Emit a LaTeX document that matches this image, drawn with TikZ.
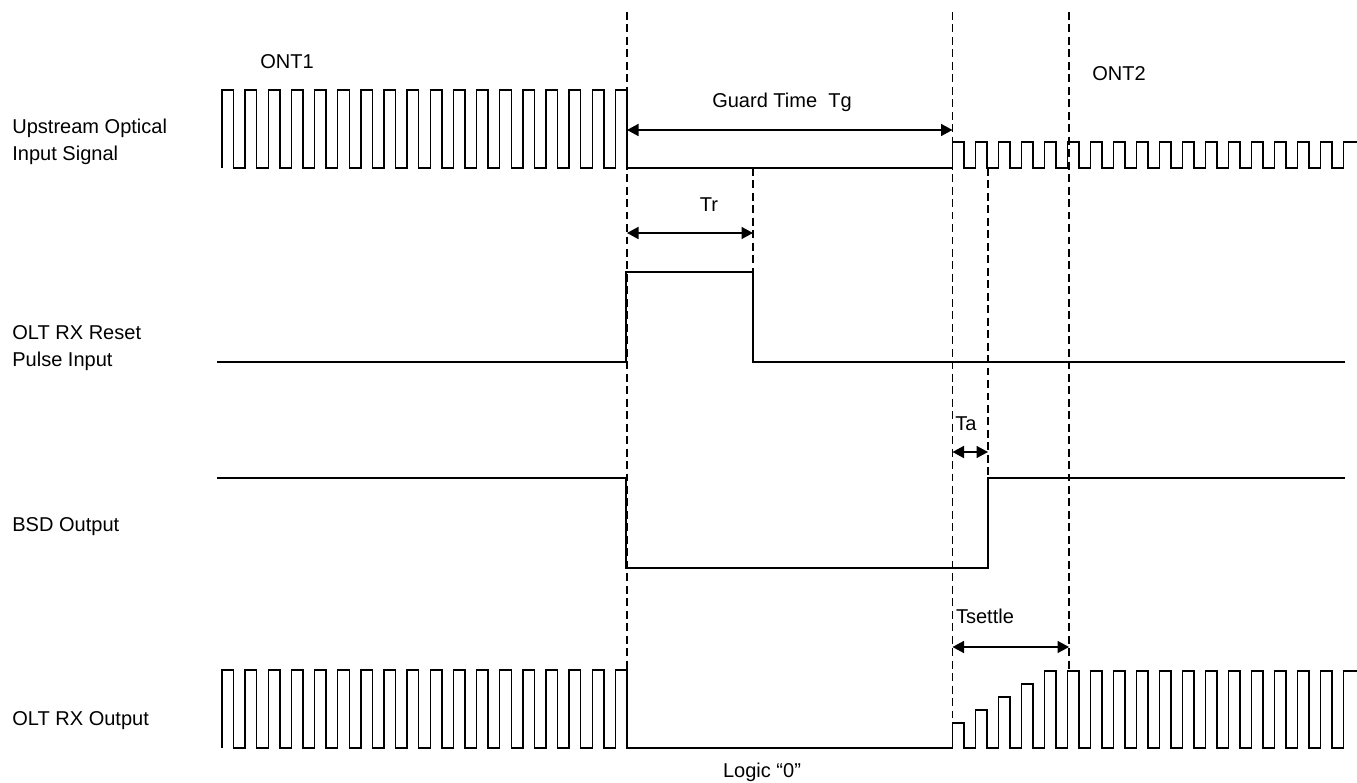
\documentclass[tikz,border=0pt]{standalone}
\usepackage{fontspec}
\setmainfont{Liberation Sans}
\usetikzlibrary{arrows.meta}

\begin{document}
\begin{tikzpicture}[
  x=0.02cm, y=-0.02cm,
  font=\fontsize{11.4pt}{15.4pt}\selectfont,
  >={Triangle[length=0.23cm,width=0.24cm]},
  every node/.style={inner sep=0pt},
  % Signal names on the left
  siglabel/.style={anchor=west, align=left},
  % Waveforms
  wave/.style={line width=0.8pt, line join=miter},
  % Time markers
  vguide/.style={line width=0.6pt, dash pattern=on 4.5pt off 2.6pt},
  dimarr/.style={<->, line width=0.9pt},
]
\useasboundingbox (0,0) rectangle (1357,783);

% -------------------------------------------------------
% Signal names
% -------------------------------------------------------
\node[siglabel] (upin)   at (12,142) {Upstream Optical\\Input Signal};
\node[siglabel] (rstin)  at (12,348) {OLT RX Reset\\Pulse Input};
\node[siglabel] (bsdout) at (12,527) {BSD Output};
\node[siglabel] (rxout)  at (12,721) {OLT RX Output};

\node (ont1) at (287,62) {ONT1};
\node (ont2) at (1119,74) {ONT2};

% -------------------------------------------------------
% Dashed time guides
% -------------------------------------------------------
\coordinate (g1t) at (627,12);    \coordinate (g1b) at (627,749);
\coordinate (g2t) at (952.5,12);  \coordinate (g2b) at (952.5,749);
\coordinate (g3t) at (1069,12);   \coordinate (g3b) at (1069,671);
\coordinate (grt) at (753,168);   \coordinate (grb) at (753,272);
\coordinate (gat) at (988,168);   \coordinate (gab) at (988,478);

\draw[vguide] (g1t) -- (g1b);
\draw[vguide] (g2t) -- (g2b);
\draw[vguide] (g3t) -- (g3b);
\draw[vguide] (grt) -- (grb);
\draw[vguide] (gat) -- (gab);

% -------------------------------------------------------
% Upstream optical input: ONT1 burst, guard gap, ONT2 burst
% -------------------------------------------------------
\draw[wave] (222,168)
  \foreach \k in {1,...,17}{ -- ++(0,-78) -- ++(11.57,0) -- ++(0,78) -- ++(11.57,0) }
  -- ++(0,-78) -- ++(11.57,0) -- ++(0,78) -- (952.5,168)
  \foreach \k in {1,...,17}{ -- ++(0,-26) -- ++(11.5,0) -- ++(0,26) -- ++(11.5,0) }
  -- ++(0,-26) -- (1357,142);

% Reset pulse
\draw[wave] (217,362) -- (626,362) -- (626,272) -- (753,272) -- (753,362) -- (1345,362);

% BSD output
\draw[wave] (217,478) -- (626,478) -- (626,568) -- (988,568) -- (988,478) -- (1345,478);

% OLT RX output (settling ramp after the gap)
\draw[wave] (222,748)
  \foreach \k in {1,...,17}{ -- ++(0,-78) -- ++(11.57,0) -- ++(0,78) -- ++(11.57,0) }
  -- ++(0,-78) -- ++(11.57,0) -- ++(0,78) -- (952.5,748)
  \foreach \hh in {25,38,51,64}{ -- ++(0,-\hh) -- ++(11.5,0) -- ++(0,\hh) -- ++(11.5,0) }
  \foreach \k in {1,...,13}{ -- ++(0,-77) -- ++(11.5,0) -- ++(0,77) -- ++(11.5,0) }
  -- ++(0,-77) -- (1357,671);

% -------------------------------------------------------
% Time intervals
% -------------------------------------------------------
\coordinate (tg-l) at (627,130);   \coordinate (tg-r) at (952.5,130);
\coordinate (tr-l) at (627,233);   \coordinate (tr-r) at (753,233);
\coordinate (ta-l) at (952.5,452); \coordinate (ta-r) at (988,452);
\coordinate (ts-l) at (952.5,647); \coordinate (ts-r) at (1069,647);

\draw[dimarr] (tg-l) -- (tg-r);
\draw[dimarr] (tr-l) -- (tr-r);
\draw[dimarr] (ta-l) -- (ta-r);
\draw[dimarr] (ts-l) -- (ts-r);

\node (tg)      at (782,102) {Guard Time~~Tg};
\node (tr)      at (709,205) {Tr};
\node (ta)      at (966,424) {Ta};
\node (tsettle) at (985,616) {Tsettle};
\node (logic0)  at (762,772) {Logic “0”};

\end{tikzpicture}
\end{document}
